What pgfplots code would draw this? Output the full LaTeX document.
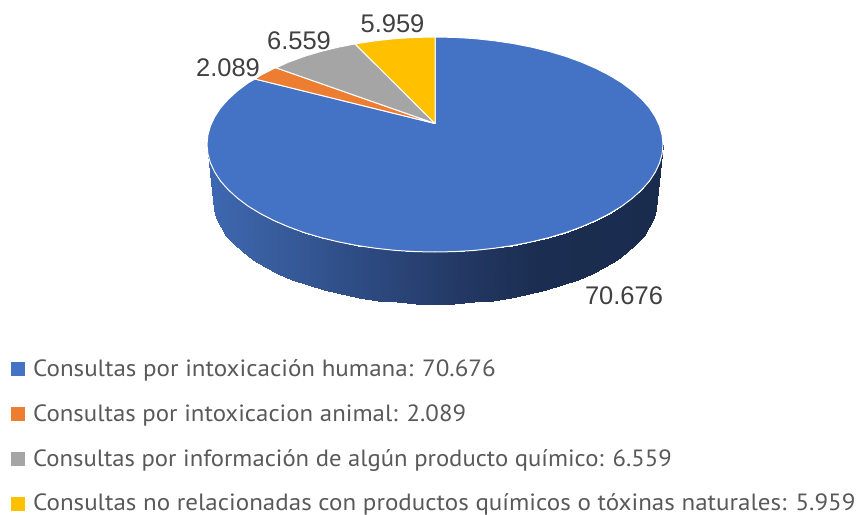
\documentclass[border=0pt]{standalone}
\usepackage{pgfplots}
\pgfplotsset{compat=1.18}
\usepackage{fontspec}
\setmainfont{Liberation Sans}
\newfontfamily\legfont[FakeStretch=1.065]{PT Sans}
\newfontfamily\legfontb[FakeStretch=1.058]{PT Sans}
\newfontfamily\legfontc[FakeStretch=1.05]{PT Sans}
\definecolor{cblue}{HTML}{4472C4}
\definecolor{corange}{HTML}{ED7D31}
\definecolor{cgray}{HTML}{A5A5A5}
\definecolor{cyellow}{HTML}{FFC000}
\definecolor{labc}{HTML}{404040}
\definecolor{legc}{HTML}{595959}
\pgfplotstableread{
x y
663 144.5
662.1 153.9
659.5 163.2
655.2 172.3
649.3 181.3
641.6 189.9
632.4 198.25
621.8 206.2
609.6 213.6
596.2 220.5
581.6 226.8
565.8 232.6
549 237.6
531.4 241.9
513 245.5
494 248.3
474.6 250.4
454.9 251.6
435 252
415.1 251.6
395.4 250.4
376 248.3
357 245.5
338.6 241.9
321 237.6
304.2 232.6
288.4 226.8
273.8 220.5
260.4 213.6
248.2 206.2
237.6 198.25
228.4 189.9
220.7 181.3
214.8 172.3
210.5 163.2
207.9 153.9
207 144.5
657 200
656.2 209.1
653.6 218.1
649.4 226.9
643.6 235.6
636.2 244
627.3 252
616.9 259.7
605.1 266.9
592 273.5
577.7 279.7
562.3 285.2
546 290.1
528.8 294.3
510.9 297.7
492.5 300.5
473.5 302.4
454.4 303.6
435 304
415.6 303.6
396.5 302.4
377.5 300.5
359.1 297.7
341.2 294.3
324 290.1
307.7 285.2
292.3 279.7
278 273.5
264.9 266.9
253.1 259.7
242.7 252
233.8 244
226.4 235.6
220.6 226.9
216.4 218.1
213.8 209.1
213 200
}\sidetable
\newcommand{\lab}[3]{\node[anchor=center,text=labc,font=\fontsize{25.5bp}{28bp}\selectfont,inner sep=0pt] at (axis cs:#1,#2) {#3};}
\newcommand{\leg}[3]{\node[anchor=base west,text=legc,font=#1\fontsize{23.5bp}{26bp}\selectfont,inner sep=0pt] at (axis cs:33,#2) {#3};}
\begin{document}
\begin{tikzpicture}
\path[use as bounding box] (0,0) rectangle (858bp,515bp);
\begin{axis}[
  at={(0,0)},anchor=south west,
  width=858bp,height=515bp,scale only axis,
  xmin=0,xmax=858,ymin=0,ymax=515,y dir=reverse,
  hide axis,clip=false,
  colormap={pie}{rgb255(207)=(62,104,178) rgb255(257)=(58,96,162) rgb255(357)=(46,76,132) rgb255(460)=(35,57,100) rgb255(540)=(27,45,80) rgb255(663)=(26,44,78)},
  point meta min=207,point meta max=663,
]
\addplot[surf,shader=interp,mesh/cols=37,point meta=x] table[x=x,y=y] {\sidetable};
% blue
\addplot[fill=cblue,draw=white,line width=1bp,line join=round] coordinates {
(435,123.5)(435,37)(454.9,37.4)(474.6,38.6)(494,40.7)(513,43.5)(531.4,47.1)(549,51.4)(565.8,56.4)(581.6,62.2)(596.2,68.5)(609.6,75.4)(621.8,82.8)(632.4,90.75)(641.6,99.1)(649.3,107.7)(655.2,116.7)(659.5,125.8)(662.1,135.1)(663,144.5)(662.1,153.9)(659.5,163.2)(655.2,172.3)(649.3,181.3)(641.6,189.9)(632.4,198.25)(621.8,206.2)(609.6,213.6)(596.2,220.5)(581.6,226.8)(565.8,232.6)(549,237.6)(531.4,241.9)(513,245.5)(494,248.3)(474.6,250.4)(454.9,251.6)(435,252)(415.1,251.6)(395.4,250.4)(376,248.3)(357,245.5)(338.6,241.9)(321,237.6)(304.2,232.6)(288.4,226.8)(273.8,220.5)(260.4,213.6)(248.2,206.2)(237.6,198.25)(228.4,189.9)(220.7,181.3)(214.8,172.3)(210.5,163.2)(207.9,153.9)(207,144.5)(207.9,135.1)(210.5,125.8)(214.8,116.7)(220.7,107.7)(228.4,99.1)(237.6,90.75)(248.2,82.8)(255,79)
} -- cycle;
% orange
\addplot[fill=corange,draw=white,line width=1bp,line join=round] coordinates {
(435,123.5)(255,79)(260.4,75.4)(273.8,68.5)(276,67.8)
} -- cycle;
% gray
\addplot[fill=cgray,draw=white,line width=1bp,line join=round] coordinates {
(435,123.5)(276,67.8)(288.4,62.2)(304.2,56.4)(321,51.4)(338.6,47.1)(355,43.9)
} -- cycle;
% yellow
\addplot[fill=cyellow,draw=white,line width=1bp,line join=round] coordinates {
(435,123.5)(355,43.9)(376,40.7)(395.4,38.6)(415.1,37.4)(435,37)
} -- cycle;
% legend swatches
\addplot[fill=cblue,draw=none] coordinates {(11,362)(25,362)(25,376)(11,376)} -- cycle;
\addplot[fill=corange,draw=none] coordinates {(11,407)(25,407)(25,421)(11,421)} -- cycle;
\addplot[fill=cgray,draw=none] coordinates {(11,452)(25,452)(25,466)(11,466)} -- cycle;
\addplot[fill=cyellow,draw=none] coordinates {(11,497)(25,497)(25,511)(11,511)} -- cycle;
\lab{228}{68}{2.089}
\lab{299}{41}{6.559}
\lab{392.5}{24}{5.959}
\lab{624}{296}{70.676}
\leg{\legfont}{376.7}{Consultas por intoxicación humana: 70.676}
\leg{\legfontb}{421.2}{Consultas por intoxicacion animal: 2.089}
\leg{\legfontc}{466.2}{Consultas por información de algún producto químico: 6.559}
\leg{\legfont}{510}{Consultas no relacionadas con productos químicos o tóxinas naturales: 5.959}
\end{axis}
\end{tikzpicture}
\end{document}
